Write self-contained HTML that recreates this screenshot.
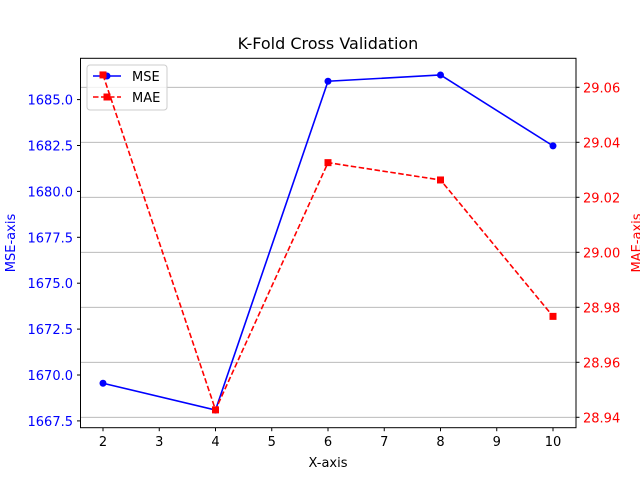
<!DOCTYPE html>
<html><head><meta charset="utf-8"><style>
body{margin:0;background:#fff;}
svg{display:block;font-family:"DejaVu Sans","Liberation Sans",sans-serif;}
</style></head><body>
<svg id="chart" width="640" height="480" viewBox="0 0 640 480">
<g id="grid"></g>
<g>
<rect x="87" y="65" width="80" height="45" rx="3" fill="#fff" fill-opacity="0.8" stroke="#ccc"/>
<line x1="93" y1="76" x2="121" y2="76" stroke="blue" stroke-width="1.5"/>
<circle cx="107" cy="76" r="3.5" fill="blue"/>
<text x="132" y="81" font-size="13">MSE</text>
<line x1="93" y1="97" x2="121" y2="97" stroke="red" stroke-width="1.5" stroke-dasharray="5.5,2.5"/>
<rect x="103.5" y="93.5" width="7" height="7" fill="red"/>
<text x="132" y="102" font-size="13">MAE</text>
</g>
<g id="series"></g>
<rect x="80.5" y="58.3" width="495.5" height="369.4" fill="none" stroke="#000" stroke-width="1"/>
<g id="axes"></g>
<text x="328" y="49" font-size="16" text-anchor="middle">K-Fold Cross Validation</text>
<text x="328" y="467" font-size="13" text-anchor="middle">X-axis</text>
<text transform="translate(15,243) rotate(-90)" font-size="13" fill="blue" text-anchor="middle">MSE-axis</text>
<text transform="translate(641,243) rotate(-90)" font-size="13" fill="red" text-anchor="middle">MAE-axis</text>
</svg>
<script>
const folds = [2, 4, 6, 8, 10];
const mseValues = [1669.55, 1668.09, 1686.0, 1686.34, 1682.48];
const maeValues = [29.0645, 28.9427, 29.0326, 29.0263, 28.9767];
const xTicks = [2, 3, 4, 5, 6, 7, 8, 9, 10];
const mseTicks = [1667.5, 1670.0, 1672.5, 1675.0, 1677.5, 1680.0, 1682.5, 1685.0];
const maeTicks = [28.94, 28.96, 28.98, 29.00, 29.02, 29.04, 29.06];

const NS = "http://www.w3.org/2000/svg";
const xS = v => 103 + (v - 2) * 56.25;
const yL = v => 375 - (v - 1670) / 2.5 * 45.9;
const yR = v => 417.3 - (v - 28.94) / 0.02 * 55;
function mk(tag, attrs, parent) {
  const e = document.createElementNS(NS, tag);
  for (const k in attrs) e.setAttribute(k, attrs[k]);
  parent.appendChild(e); return e;
}
const grid = document.getElementById('grid');
const axes = document.getElementById('axes');
const series = document.getElementById('series');

maeTicks.forEach(t => {
  const y = yR(t);
  const g = mk('line', {x1: 80.5, x2: 576, y1: y, y2: y, stroke: '#b0b0b0', 'stroke-width': 0.8}, grid);
  
  
  mk('line', {x1: 576, x2: 579.5, y1: y, y2: y, stroke: '#000'}, axes);
  const tx = mk('text', {x: 583, y: y + 5, 'font-size': 13, fill: 'red'}, axes);
  tx.textContent = t.toFixed(2);
  
  
});
mseTicks.forEach(t => {
  const y = yL(t);
  mk('line', {x1: 77, x2: 80.5, y1: y, y2: y, stroke: '#000'}, axes);
  const tx = mk('text', {x: 73, y: y + 5, 'font-size': 13, fill: 'blue', 'text-anchor': 'end'}, axes);
  tx.textContent = t.toFixed(1);
  
  
});
xTicks.forEach(t => {
  const x = xS(t);
  mk('line', {x1: x, x2: x, y1: 427.7, y2: 431.2, stroke: '#000'}, axes);
  const tx = mk('text', {x: x, y: 446, 'font-size': 13, 'text-anchor': 'middle'}, axes);
  tx.textContent = t;
  
  
});

const mseLine = mk('polyline', {points: folds.map((f, i) => xS(f) + ',' + yL(mseValues[i])).join(' '), fill: 'none', stroke: 'blue', 'stroke-width': 1.6}, series);


folds.forEach((f, i) => {
  const c = mk('circle', {cx: xS(f), cy: yL(mseValues[i]), r: 3.5, fill: 'blue'}, series);
  
  
});
const maeLine = mk('polyline', {points: folds.map((f, i) => xS(f) + ',' + yR(maeValues[i])).join(' '), fill: 'none', stroke: 'red', 'stroke-width': 1.6, 'stroke-dasharray': '5.5,2.5'}, series);


folds.forEach((f, i) => {
  const r = mk('rect', {x: xS(f) - 3.5, y: yR(maeValues[i]) - 3.5, width: 7, height: 7, fill: 'red'}, series);
  
  
});
</script>
</body></html>
